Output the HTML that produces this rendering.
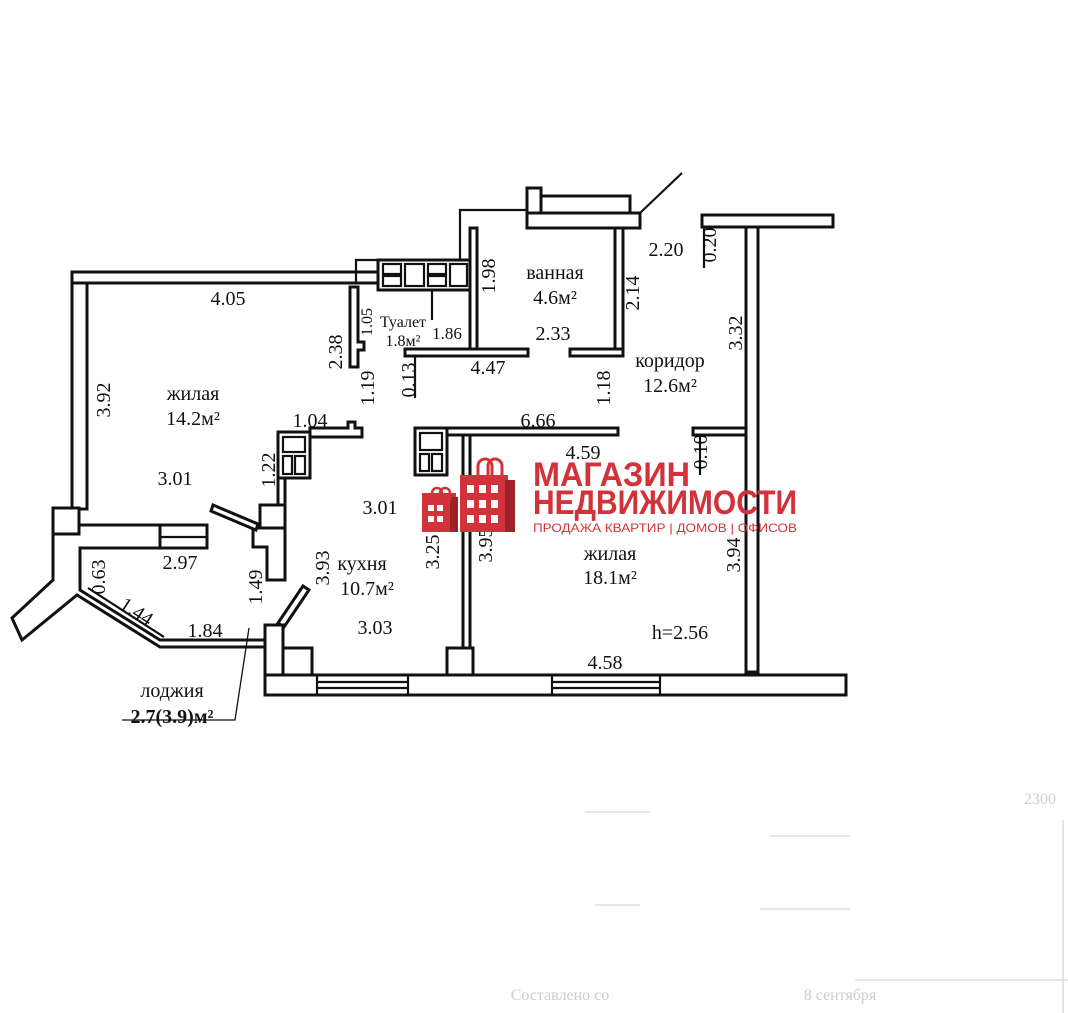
<!DOCTYPE html>
<html><head><meta charset="utf-8"><style>
html,body{margin:0;padding:0;background:#fff;}
svg{display:block;}
text{font-family:"Liberation Serif",serif;font-size:20px;fill:#111;}
.w{fill:#fff;stroke:#111;stroke-width:3;}
.t{fill:none;stroke:#111;stroke-width:2.2;}
.lg{font-family:"Liberation Sans",sans-serif;font-weight:bold;fill:#d2323a;}
</style></head><body>
<svg width="1068" height="1013" viewBox="0 0 1068 1013" xmlns="http://www.w3.org/2000/svg">
<!-- left room walls -->
<rect class="w" x="72" y="272" width="306" height="11"/>
<rect class="w" x="72" y="283" width="15" height="226"/>
<rect class="w" x="53" y="508" width="26" height="26"/>
<polygon class="w" points="79,525 160,525 160,548 80,548 80,590 160,640 265,640 265,647 160,647 77,595 22,640 12,618 53,580 53,534 79,534"/>
<rect class="w" x="160" y="525" width="47" height="23"/>
<line class="t" x1="160" y1="537" x2="207" y2="537"/>
<line class="t" x1="80" y1="590" x2="160" y2="640"/>
<line class="t" x1="88" y1="588" x2="164" y2="637"/>
<!-- toilet / top -->
<polyline class="t" points="356,283 356,260 460,260 460,210 527,210"/>
<rect class="w" x="527" y="188" width="14" height="40"/>
<rect class="w" x="541" y="196" width="89" height="17"/>
<rect class="w" x="527" y="213" width="113" height="15"/>
<line class="t" x1="640" y1="213" x2="682" y2="173"/>
<rect class="w" x="378" y="260" width="92" height="30"/>
<rect class="t" x="383" y="264" width="18" height="10"/><rect class="t" x="383" y="276" width="18" height="10"/>
<rect class="t" x="405" y="264" width="19" height="22"/>
<rect class="t" x="428" y="264" width="18" height="10"/><rect class="t" x="428" y="276" width="18" height="10"/>
<rect class="t" x="450" y="264" width="17" height="22"/>
<line class="t" x1="432" y1="290" x2="432" y2="320"/>
<rect class="w" x="470" y="228" width="7" height="127"/>
<rect class="w" x="405" y="349" width="123" height="7"/>
<rect class="w" x="615" y="228" width="8" height="128"/>
<rect class="w" x="570" y="349" width="53" height="7"/>
<line class="t" x1="415" y1="356" x2="415" y2="398"/>
<polygon class="w" points="350,287 358,287 358,342 364,342 364,350 358,350 358,367 350,367"/>
<!-- right top -->
<rect class="w" x="702" y="215" width="131" height="12"/>
<rect class="w" x="746" y="227" width="12" height="445"/>
<line class="t" x1="704" y1="227" x2="704" y2="268"/>
<rect class="w" x="693" y="428" width="53" height="7"/>
<line class="t" x1="700" y1="435" x2="700" y2="475"/>
<!-- 1.04 wall and fridge -->
<polygon class="w" points="310,428 348,428 348,422 355,422 355,428 362,428 362,437 310,437"/>
<rect class="w" x="278" y="432" width="32" height="46"/>
<rect class="t" x="283" y="437" width="22" height="15"/><rect class="t" x="283" y="456" width="9" height="18"/><rect class="t" x="295" y="456" width="10" height="18"/>
<rect class="w" x="278" y="478" width="7" height="27"/>
<rect class="w" x="260" y="505" width="25" height="23"/>
<polygon class="w" points="253,528 285,528 285,580 267,580 267,547 253,547"/>
<polygon class="w" points="213,505 258,524 256,530 211,511"/>
<polygon class="w" points="278,623 303,586 309,590 284,627"/>
<!-- 6.66 wall -->
<rect class="w" x="415" y="428" width="32" height="47"/>
<rect class="t" x="420" y="433" width="22" height="17"/><rect class="t" x="420" y="454" width="9" height="17"/><rect class="t" x="432" y="454" width="10" height="17"/>
<rect class="w" x="447" y="428" width="171" height="7"/>
<rect class="w" x="463" y="435" width="7" height="214"/>
<rect class="w" x="447" y="648" width="26" height="30"/>
<!-- bottom -->
<rect class="w" x="265" y="625" width="18" height="70"/>
<rect class="w" x="283" y="648" width="29" height="29"/>
<rect class="w" x="265" y="675" width="581" height="20"/>
<line class="t" x1="317" y1="675" x2="317" y2="695"/><line class="t" x1="408" y1="675" x2="408" y2="695"/>
<line class="t" x1="552" y1="675" x2="552" y2="695"/><line class="t" x1="660" y1="675" x2="660" y2="695"/>
<line class="t" x1="317" y1="682" x2="408" y2="682"/><line class="t" x1="317" y1="688" x2="408" y2="688"/>
<line class="t" x1="552" y1="682" x2="660" y2="682"/><line class="t" x1="552" y1="688" x2="660" y2="688"/>
<!-- leader -->
<polyline class="t" points="249,628 235,720 122,720" style="stroke-width:1.3"/>
<!-- labels -->
<g text-anchor="middle">
<text x="228" y="305">4.05</text>
<text x="193" y="400">жилая</text><text x="193" y="425">14.2м²</text>
<text x="175" y="485">3.01</text>
<text x="403" y="327" style="font-size:16px">Туалет</text><text x="403" y="346" style="font-size:16px">1.8м²</text>
<text x="447" y="339" style="font-size:17px">1.86</text>
<text x="555" y="279">ванная</text><text x="555" y="304">4.6м²</text>
<text x="553" y="340">2.33</text>
<text x="666" y="256">2.20</text>
<text x="670" y="367">коридор</text><text x="670" y="392">12.6м²</text>
<text x="488" y="374">4.47</text>
<text x="310" y="427">1.04</text>
<text x="538" y="427">6.66</text>
<text x="583" y="459">4.59</text>
<text x="380" y="514">3.01</text>
<text x="362" y="570">кухня</text><text x="367" y="595">10.7м²</text>
<text x="375" y="634">3.03</text>
<text x="610" y="560">жилая</text><text x="610" y="584">18.1м²</text>
<text x="680" y="639">h=2.56</text>
<text x="605" y="669">4.58</text>
<text x="180" y="569">2.97</text>
<text x="205" y="637">1.84</text>
<text x="172" y="697">лоджия</text>
<text x="172" y="723" style="font-weight:bold">2.7(3.9)м²</text>
<text transform="translate(110,400) rotate(-90)">3.92</text>
<text transform="translate(342,352) rotate(-90)">2.38</text>
<text transform="translate(372,322) rotate(-90)" style="font-size:16px">1.05</text>
<text transform="translate(495,276) rotate(-90)">1.98</text>
<text transform="translate(639,293) rotate(-90)">2.14</text>
<text transform="translate(716,245) rotate(-90)">0.20</text>
<text transform="translate(742,333) rotate(-90)">3.32</text>
<text transform="translate(610,388) rotate(-90)">1.18</text>
<text transform="translate(415,380) rotate(-90)">0.13</text>
<text transform="translate(374,388) rotate(-90)">1.19</text>
<text transform="translate(707,452) rotate(-90)">0.10</text>
<text transform="translate(275,470) rotate(-90)">1.22</text>
<text transform="translate(329,568) rotate(-90)">3.93</text>
<text transform="translate(439,552) rotate(-90)">3.25</text>
<text transform="translate(492,545) rotate(-90)">3.95</text>
<text transform="translate(740,555) rotate(-90)">3.94</text>
<text transform="translate(105,577) rotate(-90)">0.63</text>
<text transform="translate(262,587) rotate(-90)">1.49</text>
<text transform="translate(133,617) rotate(33)">1.44</text>
</g>
<!-- logo -->
<g>
<rect x="422" y="493" width="34" height="39" fill="#d2323a"/>
<rect x="450" y="497" width="8" height="35" fill="#9c2227"/>
<path d="M432,500 v-7 a5,5 0 0 1 10,0 v7 M440,500 v-7 a5,5 0 0 1 10,0 v7" fill="none" stroke="#d2323a" stroke-width="2.5"/>
<rect x="460" y="475" width="48" height="57" fill="#d2323a"/>
<rect x="505" y="480" width="10" height="52" fill="#9c2227"/>
<path d="M478,476 v-10 a7,7 0 0 1 14,0 v10 M488,476 v-10 a7,7 0 0 1 14,0 v10" fill="none" stroke="#d2323a" stroke-width="3"/>
<g fill="#fff">
<rect x="428" y="505" width="6" height="6"/><rect x="437" y="505" width="6" height="6"/>
<rect x="428" y="516" width="6" height="6"/><rect x="437" y="516" width="6" height="6"/>
<rect x="467" y="485" width="7" height="8"/><rect x="479" y="485" width="7" height="8"/><rect x="491" y="485" width="7" height="8"/>
<rect x="467" y="500" width="7" height="8"/><rect x="479" y="500" width="7" height="8"/><rect x="491" y="500" width="7" height="8"/>
<rect x="467" y="515" width="7" height="8"/><rect x="479" y="515" width="7" height="8"/><rect x="491" y="515" width="7" height="8"/>
</g>
<text class="lg" x="533" y="486" style="font-size:34px" textLength="157" lengthAdjust="spacingAndGlyphs">МАГАЗИН</text>
<text class="lg" x="533" y="514" style="font-size:34px" textLength="264" lengthAdjust="spacingAndGlyphs">НЕДВИЖИМОСТИ</text>
<text class="lg" x="533" y="532" style="font-size:12px;font-weight:normal" textLength="264" lengthAdjust="spacingAndGlyphs">ПРОДАЖА КВАРТИР | ДОМОВ | ОФИСОВ</text>
</g>
<!-- faint bottom traces -->
<g stroke="#ddd" stroke-width="1.5" fill="none">
<line x1="585" y1="812" x2="650" y2="812"/><line x1="770" y1="836" x2="850" y2="836"/>
<line x1="595" y1="905" x2="640" y2="905"/><line x1="760" y1="909" x2="850" y2="909"/>
<line x1="855" y1="980" x2="1068" y2="980"/><line x1="1063" y1="820" x2="1063" y2="1013"/>
</g>
<g text-anchor="middle" style="fill:#ccc"><text x="1040" y="804" style="fill:#ccc;font-size:16px">2300</text>
<text x="560" y="1000" style="fill:#ccc;font-size:16px">Составлено со</text><text x="840" y="1000" style="fill:#ccc;font-size:16px">8 сентября</text></g>
</svg>
</body></html>
